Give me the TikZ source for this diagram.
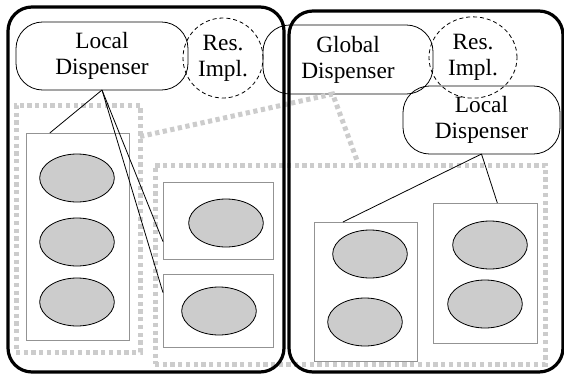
\documentclass[tikz,border=0pt]{standalone}
\usepackage{fontspec}
\setmainfont{Liberation Serif}
\usetikzlibrary{shapes.geometric}

\tikzset{
  disp/.style={draw,line width=0.6pt,rounded corners=20pt,align=center,inner sep=0pt,outer sep=0pt},
  resimpl/.style={draw,line width=0.6pt,dash pattern=on 3pt off 2.2pt,ellipse,align=center,inner sep=0pt,outer sep=0pt},
  grp/.style={draw=gray!40,line width=3.75pt,dash pattern=on 3.2pt off 2.6pt,inner sep=0pt,outer sep=0pt},
  unit/.style={draw=gray!85,line width=0.75pt,inner sep=0pt,outer sep=0pt},
  obj/.style={draw,fill=gray!40,ellipse,line width=0.6pt,minimum width=56pt,minimum height=36pt,inner sep=0pt,outer sep=0pt},
  host/.style={line width=2.4pt,rounded corners=18pt}
}

\begin{document}
\begin{tikzpicture}[x=0.75pt,y=-0.75pt,font=\fontsize{17.5}{19.5}\selectfont]
  \useasboundingbox (0,0) rectangle (564,375);
  \node[grp,minimum width=93pt,minimum height=185.25pt] at (78,228.5) (grpL) {};
  \node[grp,minimum width=292.5pt,minimum height=149.25pt] at (350,264.5) (grpR) {};
  \node[disp,minimum width=129pt,minimum height=51pt] at (102,56) (ldispL) {Local\\Dispenser};
  \node[resimpl,minimum width=60pt,minimum height=60pt] at (223,58) (resL) {Res.\\Impl.};
  \node[disp,minimum width=127.5pt,minimum height=51.75pt] at (348,59.5) (gdisp) {Global\\Dispenser};
  \node[resimpl,minimum width=66pt,minimum height=61pt] at (473,57.5) (resR) {Res.\\Impl.};
  \node[disp,minimum width=117.75pt,minimum height=51pt] at (481.5,120) (ldispR) {Local\\Dispenser};
  \draw[grp] (grpL.56) -- (gdisp.246) -- (grpR.85);
  \node[unit,minimum width=77.25pt,minimum height=155.25pt] at (77.5,236.5) (unitL) {};
  \node[unit,minimum width=82.5pt,minimum height=57.75pt] at (218,220.5) (unitT) {};
  \node[unit,minimum width=82.5pt,minimum height=54.75pt] at (218,310.5) (unitB) {};
  \node[unit,minimum width=77.25pt,minimum height=104.25pt] at (365.5,291.5) (unitA) {};
  \node[unit,minimum width=78pt,minimum height=105pt] at (485,273) (unitC) {};
  \foreach \n/\x/\y in {a/77/178,b/77/242,c/77/302,d/226/223,e/219/311,f/370/254,g/365/322,h/490/245,i/485/304}
    \node[obj] at (\x,\y) (obj\n) {};
  \draw[host] (8,7) rectangle (284,372);
  \draw[host] (289,11) rectangle (563,372);
  \foreach \x/\y in {ldispL.south/unitL.105,ldispL.south/unitT.201,ldispL.south/unitB.162,ldispR.south/unitA.108,ldispR.south/unitC.80}
    \draw[line width=0.6pt] (\x) -- (\y);
\end{tikzpicture}
\end{document}
